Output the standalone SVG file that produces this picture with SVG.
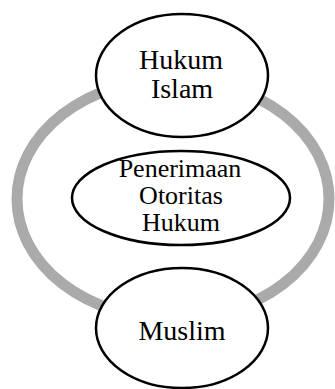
<svg xmlns="http://www.w3.org/2000/svg" width="335" height="389" viewBox="0 0 335 389">
<style>
.node ellipse{fill:#fff;stroke:#000;stroke-width:2.5}
.ring{fill:none;stroke:#aaaaaa;stroke-width:11}
text{font-family:"Liberation Serif","Times New Roman",serif;fill:#000;text-anchor:middle}
.big{font-size:28px}
.mid{font-size:26px}
</style>
<rect width="335" height="389" fill="#fff"/>
<g id="connectors">
<ellipse class="ring" cx="173" cy="199" rx="156" ry="120"/>
</g>
<g id="hukum-islam" class="node">
<ellipse cx="182" cy="75.5" rx="86" ry="61.5"/>
<text class="big" x="181" y="69">Hukum</text>
<text class="big" x="182" y="98">Islam</text>
</g>
<g id="penerimaan" class="node">
<ellipse cx="181" cy="198" rx="109" ry="47"/>
<text class="mid" x="180" y="177">Penerimaan</text>
<text class="mid" x="181" y="204">Otoritas</text>
<text class="mid" x="181" y="231">Hukum</text>
</g>
<g id="muslim" class="node">
<ellipse cx="182" cy="328" rx="86" ry="60"/>
<text class="big" x="182" y="340">Muslim</text>
</g>
</svg>
